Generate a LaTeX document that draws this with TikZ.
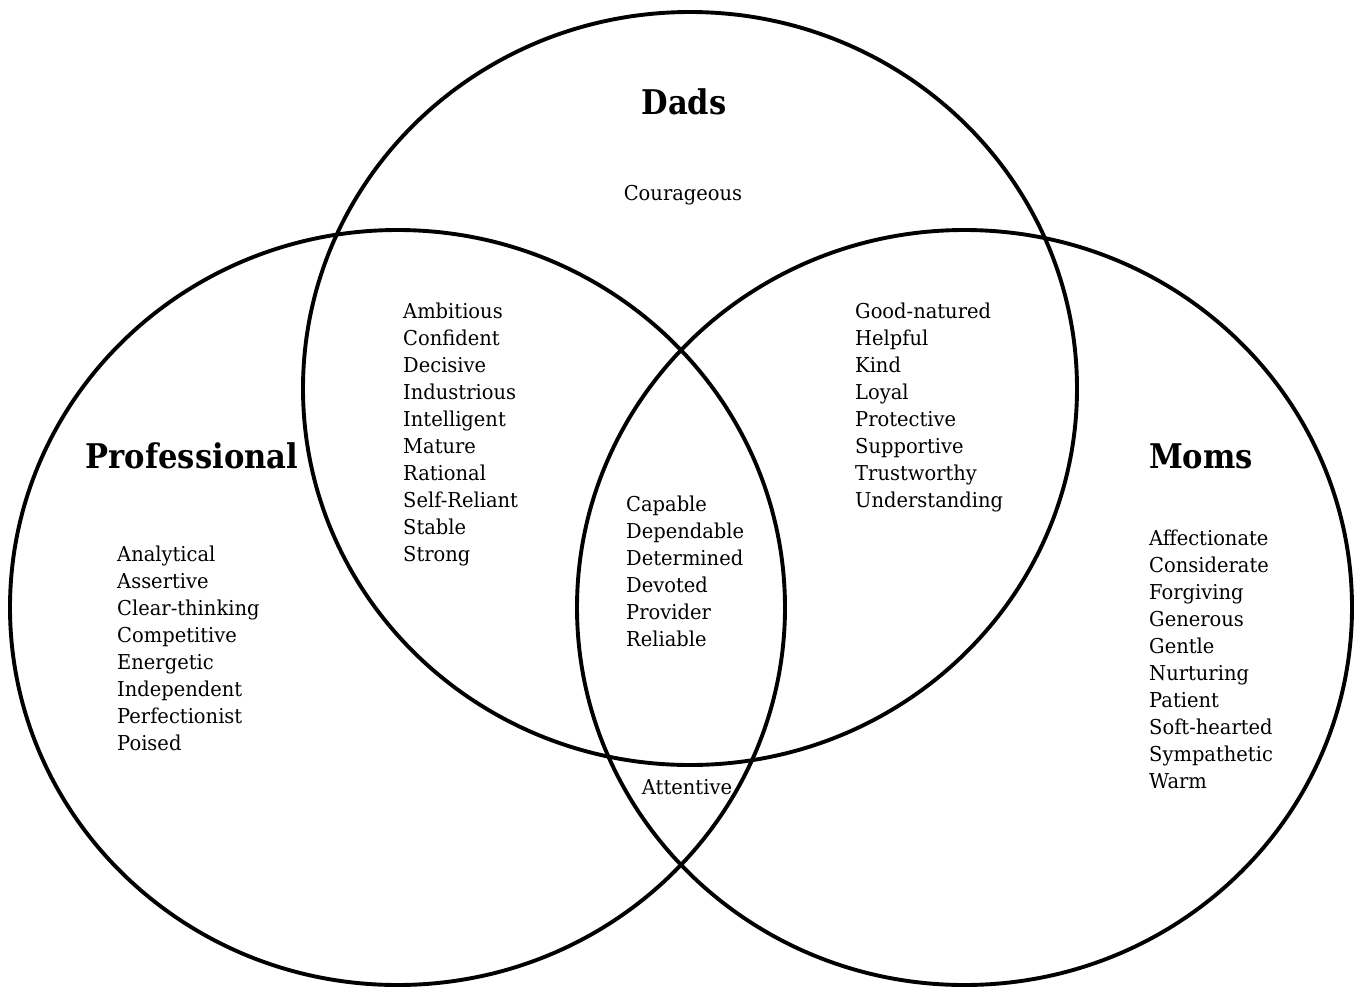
\documentclass[tikz,border=0pt]{standalone}
\usepackage{fontspec}
\setmainfont{DejaVu Serif}[FakeStretch=0.95]
\newfontfamily\ttlfont{DejaVu Serif}[FakeStretch=0.9]
\begin{document}
\begin{tikzpicture}[x=1pt,y=-1pt,
  circ/.style={line width=3.9pt},
  item/.style={anchor=base west, inner sep=0pt, font=\fontsize{20.5}{24}\selectfont},
  citem/.style={anchor=base, inner sep=0pt, font=\fontsize{20.5}{24}\selectfont},
  ttl/.style={anchor=base, inner sep=0pt, font=\ttlfont\fontsize{34}{40}\selectfont\bfseries}]
\useasboundingbox[fill=white] (0,0) rectangle (1360,988);
\draw[circ] (690,388.5) ellipse [x radius=387, y radius=376.5];
\draw[circ] (397.5,607.5) ellipse [x radius=387.5, y radius=377.5];
\draw[circ] (964.5,607.5) ellipse [x radius=387.5, y radius=377.5];
\node[ttl] (dads) at (684,114) {Dads};
\node[ttl] (prof) at (192,468) {Professional};
\node[ttl] (moms) at (1201,468) {Moms};
\node[citem] (cour) at (683,200) {Courageous};
\node[citem] (att) at (687,794) {Attentive};
\foreach \w [count=\i] in {Analytical,Assertive,Clear-thinking,Competitive,Energetic,Independent,Perfectionist,Poised}
  \node[item] (p\i) at (117,{561+27*(\i-1)}) {\w};
\foreach \w [count=\i] in {Ambitious,Confident,Decisive,Industrious,Intelligent,Mature,Rational,Self-Reliant,Stable,Strong}
  \node[item] (dp\i) at (403,{318+27*(\i-1)}) {\w};
\foreach \w [count=\i] in {Capable,Dependable,Determined,Devoted,Provider,Reliable}
  \node[item] (c\i) at (626,{511+27*(\i-1)}) {\w};
\foreach \w [count=\i] in {Good-natured,Helpful,Kind,Loyal,Protective,Supportive,Trustworthy,Understanding}
  \node[item] (dm\i) at (855,{318+27*(\i-1)}) {\w};
\foreach \w [count=\i] in {Affectionate,Considerate,Forgiving,Generous,Gentle,Nurturing,Patient,Soft-hearted,Sympathetic,Warm}
  \node[item] (m\i) at (1149,{545+27*(\i-1)}) {\w};
\end{tikzpicture}
\end{document}
